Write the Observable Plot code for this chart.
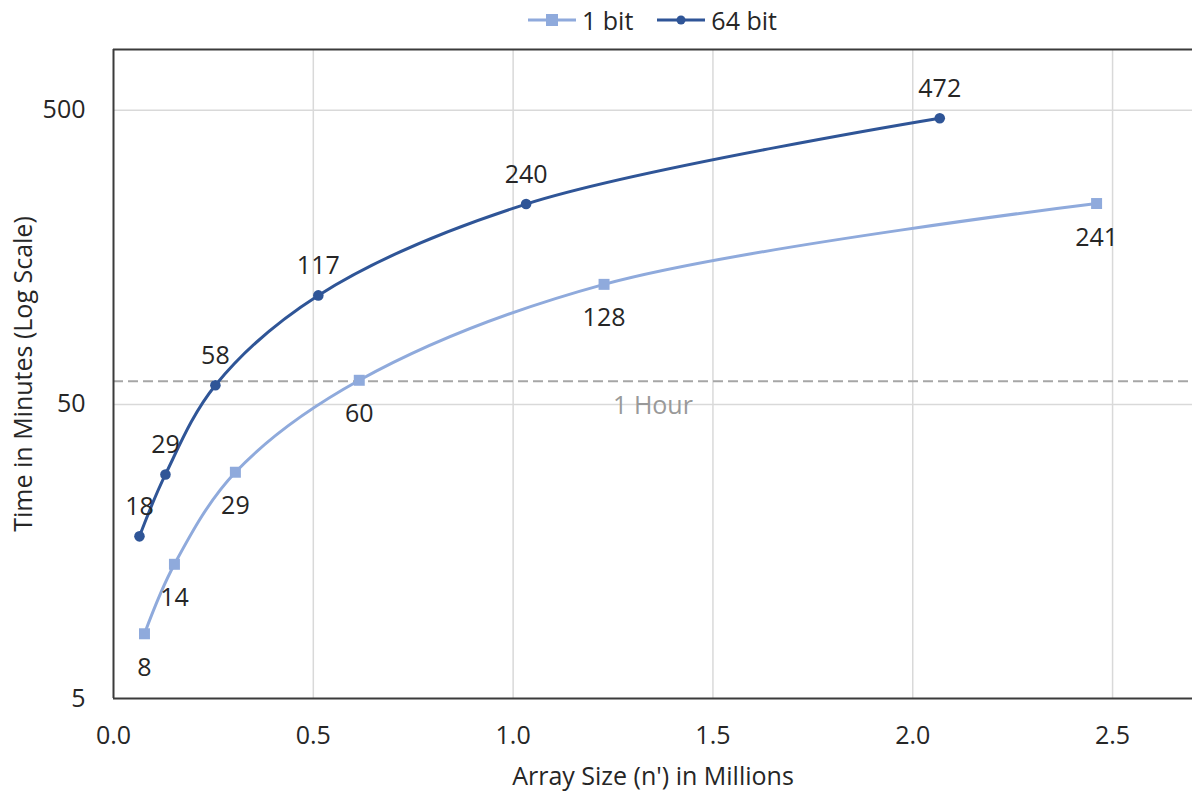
<!DOCTYPE html>
<html><head><meta charset="utf-8">
<script src="https://cdn.jsdelivr.net/npm/d3@7"></script>
<script src="https://cdn.jsdelivr.net/npm/@observablehq/plot@0.6"></script>
<style>
body{margin:0;background:#fff;font-family:"Open Sans",sans-serif;}
#legend{height:40px;box-sizing:border-box;padding-left:113px;display:flex;justify-content:center;align-items:center;gap:24px;font-size:25px;color:#262626;}
.item{display:flex;align-items:center;gap:6px;}
</style></head><body>
<div id="legend"></div>
<div id="chart"></div>
<script>
const seriesNames = ["1 bit", "64 bit"];
const seriesColors = ["#8FAADC", "#2F5597"];
const sizes1 = [0.0775, 0.1525, 0.305, 0.615, 1.2275, 2.46];
const times1 = [8.3, 14.3, 29.4, 60.4, 128, 241];
const labels1 = ["8", "14", "29", "60", "128", "241"];
const sizes64 = [0.065, 0.13, 0.255, 0.5125, 1.0325, 2.0675];
const times64 = [17.8, 28.9, 58.1, 117.4, 240, 470];
const labels64 = ["18", "29", "58", "117", "240", "472"];
const xTicks = [0, 0.5, 1.0, 1.5, 2.0, 2.5];
const yTicks = [5, 50, 500];
const xDomain = [0, 2.7];
const yDomain = [5, 805];
const hourLine = 60;
const hourLabel = "1 Hour";
const hourLabelX = 1.35;
const xTitle = "Array Size (n') in Millions";
const yTitle = "Time in Minutes (Log Scale)";

const data1 = sizes1.map((s, i) => ({size: s, time: times1[i], label: labels1[i]}));
const data64 = sizes64.map((s, i) => ({size: s, time: times64[i], label: labels64[i]}));

// Legend
const legend = document.getElementById("legend");
seriesNames.forEach((name, i) => {
  const item = document.createElement("div");
  item.className = "item";
  const marker = i === 0
    ? `<rect x="18" y="4" width="12" height="12" fill="${seriesColors[i]}"/>`
    : `<circle cx="24" cy="10" r="4.5" fill="${seriesColors[i]}"/>`;
  item.innerHTML = `<svg width="48" height="20"><line x1="0" x2="48" y1="10" y2="10" stroke="${seriesColors[i]}" stroke-width="3"/>${marker}</svg><span>${name}</span>`;
  legend.appendChild(item);
});

const FS = 25;
const chart = Plot.plot({
  width: 1192,
  height: 754,
  marginTop: 9,
  marginBottom: 96,
  marginLeft: 113,
  marginRight: 0,
  style: {fontFamily: "Open Sans, sans-serif", fontSize: FS + "px", color: "#262626", background: "#fff"},
  x: {domain: xDomain},
  y: {type: "log", domain: yDomain, axis: null},
  marks: [
    Plot.ruleX(xTicks.filter(d => d > 0), {stroke: "#d9d9d9", strokeWidth: 1.5}),
    Plot.ruleY(yTicks.filter(d => d > yDomain[0]), {stroke: "#d9d9d9", strokeWidth: 1.5}),
    Plot.ruleY([hourLine], {stroke: "#a6a6a6", strokeWidth: 2, strokeDasharray: "10,5"}),
    Plot.ruleX([xDomain[0]], {stroke: "#3b3b3b", strokeWidth: 2}),
    Plot.ruleY(yDomain, {stroke: "#3b3b3b", strokeWidth: 2}),
    Plot.axisX({anchor: "bottom", ticks: xTicks, tickFormat: d3.format(".1f"), tickSize: 0, tickPadding: 28, fontSize: FS, label: null}),
    Plot.text(yTicks, {y: d => d, text: d => String(d), frameAnchor: "left", textAnchor: "end", lineAnchor: "middle", dx: -28, fontSize: FS, fill: "#262626"}),
    Plot.text([xTitle], {frameAnchor: "bottom", lineAnchor: "middle", textAnchor: "middle", dy: 78, fontSize: FS, fill: "#262626"}),
    Plot.text([yTitle], {frameAnchor: "left", lineAnchor: "middle", textAnchor: "middle", dx: -90, rotate: -90, fontSize: FS, fill: "#262626"}),
    Plot.text([hourLabel], {x: () => hourLabelX, y: () => hourLine, dy: 25, fontSize: FS, fill: "#999999"}),
    Plot.line(data1, {x: "size", y: "time", stroke: seriesColors[0], strokeWidth: 3, curve: "catmull-rom"}),
    Plot.line(data64, {x: "size", y: "time", stroke: seriesColors[1], strokeWidth: 3, curve: "catmull-rom"}),
    Plot.dot(data1, {x: "size", y: "time", symbol: "square", r: 6.2, fill: seriesColors[0]}),
    Plot.dot(data64, {x: "size", y: "time", symbol: "circle", r: 5.3, fill: seriesColors[1]}),
    Plot.text(data1, {x: "size", y: "time", text: "label", dy: 34, fontSize: FS, fill: "#262626"}),
    Plot.text(data64, {x: "size", y: "time", text: "label", dy: -29, fontSize: FS, fill: "#262626"})
  ]
});
document.getElementById("chart").appendChild(chart);
</script>
</body></html>
